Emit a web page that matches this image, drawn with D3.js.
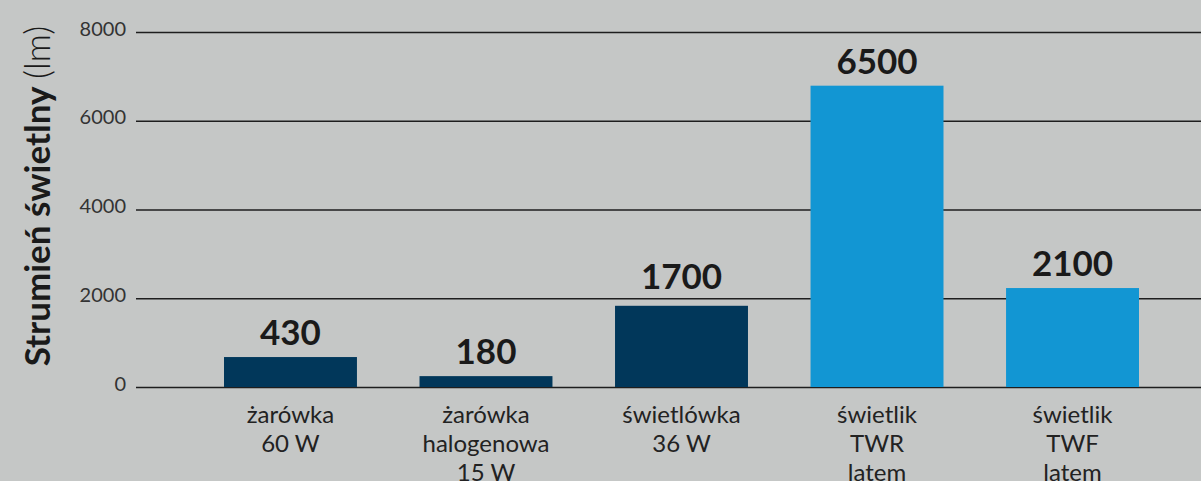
<!DOCTYPE html>
<html>
<head>
<meta charset="utf-8">
<script src="https://cdn.jsdelivr.net/npm/d3@7"></script>
<style>
  html, body { margin: 0; padding: 0; background: #c5c7c6; }
  svg { display: block; font-family: Lato, "Noto Sans", sans-serif; }
</style>
</head>
<body>
<div id="chart"></div>
<script>
// categories (multi-line labels)
const categories = [
    ["żarówka", "60 W"],
    ["żarówka", "halogenowa", "15 W"],
    ["świetlówka", "36 W"],
    ["świetlik", "TWR", "latem"],
    ["świetlik", "TWF", "latem"]
]
// printed values above the bars
const labels = [430, 180, 1700, 6500, 2100]
// bar heights as drawn in the picture (read against the grid)
const barValues = [675, 245, 1830, 6790, 2230]
const barColors = ["#01375a", "#01375a", "#01375a", "#1296d3", "#1296d3"]
const yTicks = [0, 2000, 4000, 6000, 8000]

let width = 1201, height = 481
let svg = d3.select("#chart").append("svg")
    .attr("width", width)
    .attr("height", height)

svg.append("rect").attr("width", width).attr("height", height).attr("fill", "#c5c7c6")

let y = d3.scaleLinear().domain([0, 8000]).range([387, 32])
let x = d3.scaleBand()
    .domain(d3.range(categories.length))
    .range([224, 1139])
    .paddingInner(0.32)
    .paddingOuter(0)

// grid lines + tick labels
let grid = svg.append("g")
    .attr("transform", "translate(136,0)")
    .call(d3.axisLeft(y).tickValues(yTicks).tickSize(-(width - 136)).tickFormat(d3.format("d")))
grid.select(".domain").remove()
grid.selectAll(".tick line")
    .attr("stroke", "#1e1e1e")
    .attr("stroke-width", 1.5)
grid.selectAll(".tick text")
    .attr("x", -10)
    .attr("dy", "0.15em")
    .attr("fill", "#333")
    .attr("font-size", 20)
    .attr("font-weight", 400)
    .attr("text-anchor", "end")
    .style("font-family", "Lato, sans-serif")

// bars
svg.selectAll(".bar")
    .data(barValues)
    .enter().append("rect")
    .attr("class", "bar")
    .attr("x", (d, i) => x(i))
    .attr("width", x.bandwidth())
    .attr("y", d => y(d))
    .attr("height", d => y(0) - y(d))
    .attr("fill", (d, i) => barColors[i])

// value labels
svg.selectAll(".val")
    .data(labels)
    .enter().append("text")
    .attr("class", "val")
    .attr("x", (d, i) => x(i) + x.bandwidth() / 2)
    .attr("y", (d, i) => y(barValues[i]) - (i == 2 ? 17 : 12))
    .attr("text-anchor", "middle")
    .attr("font-size", 35)
    .attr("font-weight", 700)
    .attr("fill", "#1a1a1a")
    .text(d => d)

// category labels
let cats = svg.selectAll(".cat")
    .data(categories)
    .enter().append("text")
    .attr("class", "cat")
    .attr("text-anchor", "middle")
    .attr("font-size", 24)
    .attr("fill", "#222")
cats.selectAll("tspan")
    .data((d, i) => d.map(t => ({ t: t, i: i })))
    .enter().append("tspan")
    .attr("x", d => x(d.i) + x.bandwidth() / 2)
    .attr("y", (d, j) => 423 + j * 29)
    .text(d => d.t)

// y axis title
let title = svg.append("text")
    .attr("transform", "translate(50,196) rotate(-90)")
    .attr("text-anchor", "middle")
    .attr("font-size", 35)
    .attr("fill", "#1a1a1a")
title.append("tspan").attr("font-weight", 700).text("Strumień świetlny ")
title.append("tspan").attr("font-weight", 300).text("(lm)")
</script>
</body>
</html>
